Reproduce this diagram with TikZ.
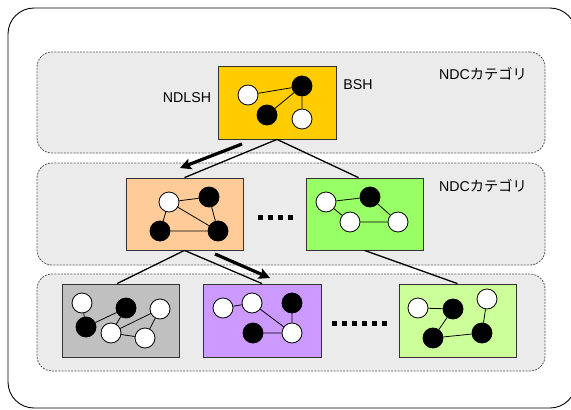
\documentclass[tikz,border=0pt]{standalone}
\usepackage{fontspec}
\setmainfont{Liberation Sans}
\newfontfamily\cjk{Noto Sans CJK JP}
\usetikzlibrary{arrows.meta,calc}

\definecolor{bandfill}{HTML}{EBEBEB}
\definecolor{bandline}{HTML}{555555}
\definecolor{cYellow}{HTML}{FFCC00}
\definecolor{cOrange}{HTML}{FFCC99}
\definecolor{cGreen}{HTML}{99FF66}
\definecolor{cGray}{HTML}{C0C0C0}
\definecolor{cPurple}{HTML}{CC99FF}
\definecolor{cLight}{HTML}{CCFF99}

\tikzset{
  band/.style={draw=bandline, fill=bandfill, line width=0.8pt,
    dash pattern=on 2pt off 1.2pt, rounded corners=15pt,
    minimum width=508pt, inner sep=0pt},
  card/.style={draw=black!80, line width=0.8pt, minimum width=117pt,
    minimum height=73pt, inner sep=0pt},
  wv/.style={circle, draw=black, fill=white, line width=0.8pt,
    minimum size=20pt, inner sep=0pt},
  bv/.style={circle, draw=black, fill=black, line width=0.8pt,
    minimum size=20pt, inner sep=0pt},
  ge/.style={draw=black, line width=0.8pt},
  link/.style={draw=black, line width=1.3pt},
  bigarrow/.style={draw=black, line width=3.2pt,
    -{Stealth[length=11pt,width=11pt,inset=2pt]}},
  lbl/.style={font=\fontsize{14.2}{16}\selectfont, inner sep=0pt},
  dots/.style={draw=black, line width=5pt, dash pattern=on 5pt off 5pt}
}

\begin{document}
\begin{tikzpicture}[x=1pt,y=-1pt]
\useasboundingbox (0,0) rectangle (571,410);

% outer frame
\draw[line width=0.9pt, rounded corners=26pt] (8,8) rectangle (576,408);

% category bands
\node[band, minimum height=101pt] (band1) at (291,102.5) {};
\node[band, minimum height=102pt] (band2) at (291,214) {};
\node[band, minimum height=97pt]  (band3) at (291,322.5) {};

\node[lbl] (cat1) at (483,74) {NDC{\cjk カテゴリ}};
\node[lbl] (cat2) at (483,186) {NDC{\cjk カテゴリ}};

% hierarchy boxes
\node[card, fill=cYellow, minimum width=118pt] (Y) at (277,102.5) {};
\node[card, fill=cOrange, minimum height=72pt] (O) at (184.5,214) {};
\node[card, fill=cGreen, minimum height=72pt]  (G) at (364.5,214) {};
\node[card, fill=cGray]   (A) at (120.5,320.5) {};
\node[card, fill=cPurple, minimum width=118pt] (P) at (262,320.5) {};
\node[card, fill=cLight]  (L) at (457.5,320.5) {};

\node[lbl] (ndlsh) at (187,98) {NDLSH};
\node[lbl] (bsh) at (358,85) {BSH};

% links between levels
\draw[link] (Y.south) -- ([xshift=-6pt]G.north);
\draw[link] (Y.south) -- (O.north);
\draw[link] (O.south) -- ([xshift=-3.5pt]A.north);
\draw[link] (O.south) -- (P.north);
\draw[link] (G.south) -- (L.north);

% direction arrows
\coordinate (a1s) at (242,144);
\coordinate (a1e) at (180,168);
\coordinate (a2s) at (215,254);
\coordinate (a2e) at (270,278);
\draw[bigarrow] (a1s) -- (a1e);
\draw[bigarrow] (a2s) -- (a2e);

% ellipsis marks
\coordinate (d1s) at (258,217);
\coordinate (d1e) at (296,217);
\coordinate (d2s) at (332,323);
\coordinate (d2e) at (390,323);
\draw[dots] (d1s) -- (d1e);
\draw[dots] (d2s) -- (d2e);

% graph in yellow box
\node[wv] (y1) at (248,95) {};
\node[bv] (y2) at (302,86) {};
\node[bv] (y3) at (267,115) {};
\node[wv] (y4) at (302,119) {};
\draw[ge] (y1) -- (y2) (y2) -- (y3) (y2) -- (y4);

% graph in orange box
\node[wv] (o1) at (169,202) {};
\node[bv] (o2) at (209,197) {};
\node[bv] (o3) at (160,231) {};
\node[bv] (o4) at (218,231) {};
\draw[ge] (o1) -- (o2) (o1) -- (o3) (o1) -- (o4) (o2) -- (o4) (o3) -- (o4);

% graph in green box
\node[wv] (g1) at (326,202) {};
\node[bv] (g2) at (370,197) {};
\node[wv] (g3) at (350,222) {};
\node[wv] (g4) at (398,222) {};
\draw[ge] (g1) -- (g2) (g1) -- (g3) (g3) -- (g4) (g2) -- (g4);

% graph in gray box
\node[wv] (s1) at (82,303) {};
\node[bv] (s2) at (126,308) {};
\node[wv] (s3) at (160,309) {};
\node[bv] (s4) at (86,327) {};
\node[wv] (s5) at (111,333) {};
\node[wv] (s6) at (145,338) {};
\draw[ge] (s1) -- (s4) (s4) -- (s2) (s2) -- (s5) (s5) -- (s3) (s5) -- (s6)
          (s3) -- (s6);

% graph in purple box
\node[wv] (p1) at (223,308) {};
\node[wv] (p2) at (252,303) {};
\node[bv] (p3) at (292,303) {};
\node[bv] (p4) at (253,333) {};
\node[wv] (p5) at (292,333) {};
\draw[ge] (p1) -- (p2) (p2) -- (p5) (p3) -- (p5) (p4) -- (p5);

% graph in light green box
\node[wv] (l1) at (418,308) {};
\node[bv] (l2) at (453,309) {};
\node[wv] (l3) at (487,299) {};
\node[bv] (l4) at (433,338) {};
\node[bv] (l5) at (482,333) {};
\draw[ge] (l1) -- (l2) (l2) -- (l4) (l4) -- (l5) (l5) -- (l3);
\end{tikzpicture}
\end{document}
